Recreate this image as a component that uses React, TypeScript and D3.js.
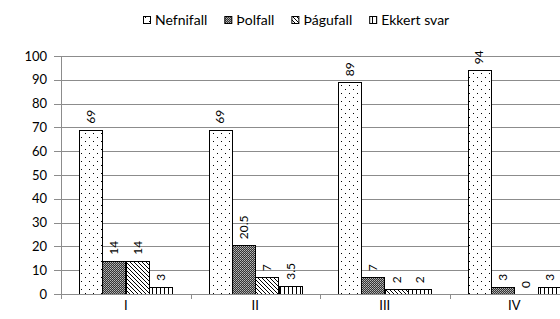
import React, { useEffect, useRef } from "react";
import * as d3 from "d3";

const categories = ["I", "II", "III", "IV"];
const seriesNames = ["Nefnifall", "Þolfall", "Þágufall", "Ekkert svar"];
const nefnifall = [69, 69, 89, 94];
const tholfall = [14, 20.5, 7, 3];
const thagufall = [14, 7, 2, 0];
const ekkert = [3, 3.5, 2, 3];
const yTicks = [0, 10, 20, 30, 40, 50, 60, 70, 80, 90, 100];

const seriesValues = [nefnifall, tholfall, thagufall, ekkert];
const patternIds = ["pNef", "pThol", "pPag", "pEkk"];
const FONT = "Lato, 'Open Sans', sans-serif";

export default function App() {
  const ref = useRef<SVGSVGElement | null>(null);

  useEffect(() => {
    const svg = d3.select(ref.current);
    svg.selectAll("*").remove();
    const W = 560, H = 319;
    const left = 61, right = 579, top = 56, bottom = 294;

    const defs = svg.append("defs");
    // Nefnifall: sparse dots
    const p1 = defs.append("pattern").attr("id", "pNef").attr("patternUnits", "userSpaceOnUse")
      .attr("width", 8).attr("height", 8);
    p1.append("rect").attr("width", 8).attr("height", 8).attr("fill", "#fff");
    p1.append("rect").attr("x", 1).attr("y", 1).attr("width", 1).attr("height", 1).attr("fill", "#000");
    p1.append("rect").attr("x", 5).attr("y", 5).attr("width", 1).attr("height", 1).attr("fill", "#000");
    // Þolfall: dense dark dots
    const p2 = defs.append("pattern").attr("id", "pThol").attr("patternUnits", "userSpaceOnUse")
      .attr("width", 2).attr("height", 2);
    p2.append("rect").attr("width", 2).attr("height", 2).attr("fill", "#333");
    p2.append("rect").attr("x", 0).attr("y", 0).attr("width", 1).attr("height", 1).attr("fill", "#bbb");
    p2.append("rect").attr("x", 1).attr("y", 1).attr("width", 1).attr("height", 1).attr("fill", "#999");
    // Þágufall: diagonal lines
    const p3 = defs.append("pattern").attr("id", "pPag").attr("patternUnits", "userSpaceOnUse")
      .attr("width", 4).attr("height", 4);
    p3.append("rect").attr("width", 4).attr("height", 4).attr("fill", "#fff");
    p3.append("path").attr("d", "M-1,-1 L5,5 M-1,3 L1,5 M3,-1 L5,1")
      .attr("stroke", "#000").attr("stroke-width", 1);
    // Ekkert svar: vertical lines
    const p4 = defs.append("pattern").attr("id", "pEkk").attr("patternUnits", "userSpaceOnUse")
      .attr("width", 4).attr("height", 4);
    p4.append("rect").attr("width", 4).attr("height", 4).attr("fill", "#fff");
    p4.append("rect").attr("x", 0).attr("y", 0).attr("width", 1).attr("height", 4).attr("fill", "#000");

    const x0 = d3.scaleBand<string>().domain(categories).range([left, right]).padding(0);
    const bw = x0.bandwidth();
    const x1 = d3.scaleBand<string>().domain(seriesNames).range([18, bw - 18]).padding(0);
    const y = d3.scaleLinear().domain([0, 100]).range([bottom, top]);

    // gridlines
    svg.append("g").selectAll("line").data(yTicks).join("line")
      .attr("x1", left - 7).attr("x2", W)
      .attr("y1", (d) => Math.round(y(d)) + 0.5).attr("y2", (d) => Math.round(y(d)) + 0.5)
      .attr("stroke", "#8c8c8c").attr("stroke-width", 1);
    // y axis line
    svg.append("line").attr("x1", left + 0.5).attr("x2", left + 0.5)
      .attr("y1", Math.round(y(100))).attr("y2", Math.round(y(0)) + 1)
      .attr("stroke", "#8c8c8c");
    // y labels
    svg.append("g").selectAll("text").data(yTicks).join("text")
      .attr("x", 47).attr("y", (d) => y(d)).attr("dy", "0.35em")
      .attr("text-anchor", "end").attr("font-family", FONT).attr("font-size", 13)
      .attr("fill", "#000").text((d) => String(d));
    // x ticks
    const bounds = categories.map((c) => x0(c) as number).concat([right]);
    svg.append("g").selectAll("line").data(bounds).join("line")
      .attr("x1", (d) => Math.round(d) + 0.5).attr("x2", (d) => Math.round(d) + 0.5)
      .attr("y1", Math.round(y(0))).attr("y2", Math.round(y(0)) + 5)
      .attr("stroke", "#8c8c8c");
    // x labels
    svg.append("g").selectAll("text").data(categories).join("text")
      .attr("x", (d) => (x0(d) as number) + bw / 2).attr("y", 310)
      .attr("text-anchor", "middle").attr("font-family", FONT).attr("font-size", 13)
      .attr("fill", "#000").text((d) => d);

    // bars
    const g = svg.append("g");
    categories.forEach((c, ci) => {
      seriesNames.forEach((s, si) => {
        const v = seriesValues[si][ci];
        const bx = (x0(c) as number) + (x1(s) as number);
        const w = x1.bandwidth();
        if (v > 0) {
          g.append("rect")
            .attr("x", Math.round(bx) + 0.5).attr("y", Math.round(y(v)) + 0.5)
            .attr("width", Math.round(w)).attr("height", Math.round(y(0)) - Math.round(y(v)))
            .attr("fill", `url(#${patternIds[si]})`).attr("stroke", "#000").attr("stroke-width", 1);
        }
        const cx = bx + w / 2;
        const ty = y(v) - 6;
        g.append("text")
          .attr("transform", `translate(${cx},${ty}) rotate(-90)`)
          .attr("dy", "0.35em").attr("text-anchor", "start")
          .attr("font-family", FONT).attr("font-size", 12).attr("fill", "#000")
          .text(String(v));
      });
    });

    // x axis line
    svg.append("line").attr("x1", left).attr("x2", W)
      .attr("y1", Math.round(y(0)) + 0.5).attr("y2", Math.round(y(0)) + 0.5)
      .attr("stroke", "#8c8c8c");

    // legend
    const lg = svg.append("g");
    let lx = 143;
    const ly = 20;
    seriesNames.forEach((s, si) => {
      lg.append("rect").attr("x", lx + 0.5).attr("y", ly - 3.5).attr("width", 7).attr("height", 7)
        .attr("fill", `url(#${patternIds[si]})`).attr("stroke", "#000");
      const t = lg.append("text").attr("x", lx + 12).attr("y", ly).attr("dy", "0.35em")
        .attr("font-family", FONT).attr("font-size", 14).attr("fill", "#000").text(s);
      const tw = (t.node() as SVGTextElement).getComputedTextLength();
      lx = lx + 12 + tw + 17;
    });
    void H;
  }, []);

  return (
    <svg ref={ref} width={560} height={319}
      style={{ position: "absolute", left: 0, top: 0, background: "#fff" }} />
  );
}
